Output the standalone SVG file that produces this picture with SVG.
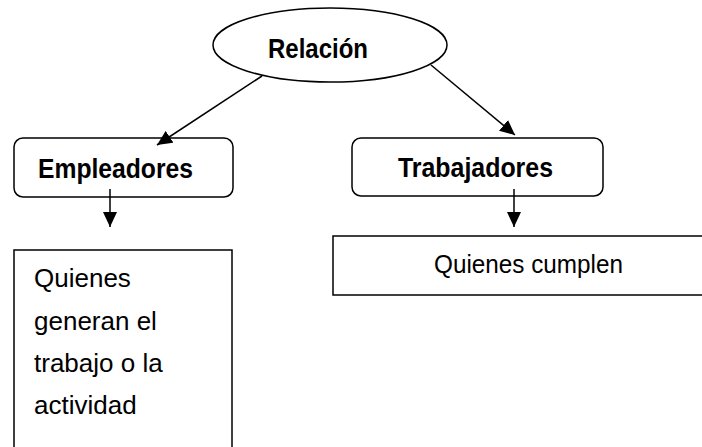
<svg xmlns="http://www.w3.org/2000/svg" width="702" height="447" viewBox="0 0 702 447">
<style>
.shape{fill:#fff;stroke:#000;stroke-width:1.5}
.b{font-family:"Liberation Sans",Arial,sans-serif;font-weight:bold;font-size:28px;fill:#000}
.r{font-family:"Liberation Sans",Arial,sans-serif;font-size:26px;fill:#000}
.c{stroke:#000;stroke-width:1.5;fill:none;marker-end:url(#ah)}
</style>
<defs>
<marker id="ah" markerWidth="15" markerHeight="15" refX="15" refY="7" orient="auto" markerUnits="userSpaceOnUse" viewBox="0 0 15 14">
<path d="M0,0 L15,7 L0,14 z" fill="#000"/>
</marker>
</defs>
<g id="relacion">
<ellipse class="shape" cx="330" cy="45" rx="117" ry="37"/>
<text class="b" x="268" y="58" textLength="100" lengthAdjust="spacingAndGlyphs">Relación</text>
</g>
<g id="empleadores">
<rect class="shape" x="14" y="138" width="219" height="59" rx="9"/>
<text class="b" x="38" y="178" textLength="155" lengthAdjust="spacingAndGlyphs">Empleadores</text>
</g>
<g id="trabajadores">
<rect class="shape" x="352" y="138" width="251" height="58" rx="9"/>
<text class="b" x="398" y="177" textLength="155" lengthAdjust="spacingAndGlyphs">Trabajadores</text>
</g>
<g id="quienes-generan">
<rect class="shape" x="14" y="250" width="218" height="210"/>
<text class="r" x="34" y="287">Quienes</text>
<text class="r" x="34" y="330">generan el</text>
<text class="r" x="34" y="372">trabajo o la</text>
<text class="r" x="34" y="414">actividad</text>
</g>
<g id="quienes-cumplen">
<rect class="shape" x="333" y="236" width="372" height="59"/>
<text class="r" x="434" y="273" textLength="189" lengthAdjust="spacingAndGlyphs">Quienes cumplen</text>
</g>
<g id="connectors">
<line class="c" x1="262" y1="76" x2="157" y2="145"/>
<line class="c" x1="431" y1="65" x2="515" y2="135"/>
<line class="c" x1="110" y1="189" x2="110" y2="227"/>
<line class="c" x1="514" y1="189" x2="514" y2="227"/>
</g>
</svg>
